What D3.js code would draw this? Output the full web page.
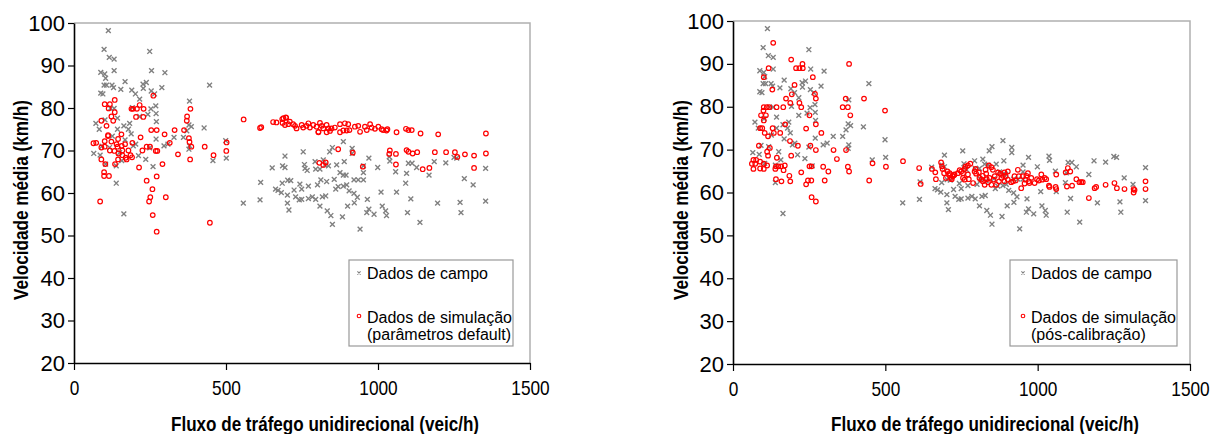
<!DOCTYPE html>
<html>
<head>
<meta charset="utf-8">
<title>Velocidade x Fluxo</title>
<script src="https://d3js.org/d3.v7.min.js"></script>
<style>
  body { margin: 0; background: #fff; }
  svg { display: block; }
  .tick text { fill: #000; }
  .ylab { font-family: "Liberation Sans", Arial, sans-serif; font-size: 22px; }
  .xlab { font-family: "Liberation Sans", Arial, sans-serif; font-size: 21px; }
  .title { font-family: "Liberation Sans", Arial, sans-serif; font-weight: bold; font-size: 21px; }
  .legend text { font-family: "Liberation Sans", Arial, sans-serif; font-size: 16px; }
</style>
</head>
<body>
<div id="chart"></div>
<script>
// field data (same in both panels): [flow veic/h, speed km/h]
const campo = [
  [113,98.2],[99,93.8],[249,93.3],[116,91.9],[132,91.5],[132,88.8],[255,88.8],[299,88.3],[88,88.4],[101,88.0],
  [104,87.0],[168,86.2],[238,86.0],[227,85.6],[99,85.4],[107,85.4],[125,85.4],[130,84.8],[154,84.4],[190,84.2],
  [228,84.6],[289,84.8],[446,85.4],[254,84.0],[202,83.3],[88,83.5],[95,83.3],[265,83.3],[216,82.1],[380,81.6],
  [269,80.5],[120,79.9],[132,79.9],[192,80.1],[253,79.8],[270,78.7],[243,78.5],[216,78.0],[143,77.6],[102,77.2],
  [72,76.4],[271,76.8],[183,76.4],[164,75.8],[378,76.0],[386,75.6],[83,75.0],[143,75.0],[179,75.0],[428,75.3],
  [371,74.6],[188,73.9],[126,73.4],[270,72.7],[329,73.1],[360,73.1],[168,72.5],[203,71.5],[195,71.1],[296,71.1],
  [309,71.5],[117,70.7],[249,70.6],[380,71.1],[378,70.3],[499,72.3],[65,69.3],[86,68.9],[212,68.8],[236,67.9],
  [157,67.6],[457,67.6],[501,68.2],[104,66.8],[139,66.4],[260,66.2],[139,62.3],[164,55.1],[92,71.0],[150,69.5],
  [652,65.9],[694,68.7],[686,66.4],[694,66.0],[614,62.5],[703,63.0],[713,62.9],[685,62.3],[663,60.9],[671,60.6],
  [682,60.1],[702,59.5],[724,60.7],[729,59.1],[741,58.4],[557,57.6],[612,58.4],[702,57.6],[707,56.0],
  [754,69.7],[850,70.7],[886,72.1],[841,69.7],[915,70.5],[915,69.3],[970,68.2],[1037,68.5],[1039,67.5],[1100,67.0],
  [1112,67.0],[1185,67.4],[1223,67.1],[1250,68.4],[1259,68.2],[1354,65.8],[758,66.7],[760,65.8],[767,65.3],[793,67.4],
  [795,65.6],[809,65.6],[820,67.8],[826,66.6],[837,66.4],[864,66.6],[889,67.4],[952,66.4],[952,64.8],[999,66.0],
  [1058,65.0],[1094,64.6],[1127,66.0],[1168,64.2],[875,64.8],[886,64.2],[895,64.2],[743,62.1],[749,60.9],[771,61.6],
  [801,61.9],[812,63.1],[831,62.7],[856,63.2],[861,60.9],[869,61.5],[886,61.6],[897,61.9],[905,60.5],[921,63.1],
  [935,63.1],[952,63.1],[921,59.9],[932,59.0],[1010,60.2],[1061,60.2],[1091,62.3],[1284,63.4],[1313,61.9],[749,58.5],
  [771,58.7],[784,59.1],[795,58.5],[809,56.9],[817,59.1],[828,59.3],[833,55.8],[845,54.7],[883,54.4],[850,52.6],
  [900,56.9],[922,57.7],[965,58.5],[970,56.2],[963,55.4],[987,55.0],[1014,56.9],[1025,55.8],[1028,54.7],[1097,55.4],
  [1108,58.6],[1138,53.1],[1196,57.6],[1270,57.8],[1273,55.4],[1354,58.1],[941,51.5]
];

// simulation, default parameters
const simDefault = [
  [261,82.9],[134,81.9],[101,80.9],[118,80.9],[114,79.9],[134,79.0],[189,79.8],[194,79.8],[207,79.8],[216,80.7],
  [229,79.8],[228,77.9],[204,77.9],[123,78.0],[129,77.0],[383,79.8],[372,78.0],[371,77.0],[90,77.0],[107,75.8],
  [254,74.8],[272,74.8],[331,74.8],[362,74.8],[112,73.6],[112,73.4],[156,73.8],[298,73.8],[145,72.7],[219,73.1],
  [378,72.9],[380,72.0],[64,71.7],[73,71.8],[101,72.2],[123,72.1],[140,71.5],[192,71.8],[90,70.7],[101,70.9],
  [143,70.9],[157,71.1],[168,71.5],[239,70.9],[250,70.9],[315,71.8],[386,70.9],[430,70.9],[502,71.9],[118,70.0],
  [133,69.9],[159,70.0],[179,70.0],[225,70.0],[269,69.9],[274,69.9],[501,69.9],[342,69.1],[459,68.9],[146,69.3],
  [159,68.9],[170,68.3],[186,68.9],[173,67.9],[191,68.4],[90,67.9],[145,67.9],[382,67.9],[103,66.8],[135,66.8],
  [291,66.8],[214,66.0],[272,63.9],[99,64.9],[99,64.0],[115,64.0],[239,62.9],[258,60.9],[251,59.0],[247,58.0],
  [302,59.0],[86,58.0],[259,54.8],[447,53.0],[272,50.9],
  [558,77.3],[612,75.3],[616,75.5],[655,76.7],[666,76.6],[685,77.4],[698,77.7],
  [689,77.6],[697,77.8],[686,76.5],[694,76.0],[705,76.2],[710,76.8],[721,76.2],[727,75.8],[732,75.2],[749,76.0],
  [754,75.4],[765,75.8],[771,76.4],[776,75.4],[787,76.0],[798,75.6],[804,74.4],[809,76.5],[815,75.8],[820,75.2],
  [831,76.0],[837,75.2],[847,75.2],[858,75.4],[875,76.2],[891,76.4],[902,76.2],[886,74.7],[897,74.7],[875,74.3],
  [906,74.8],[924,75.6],[935,75.8],[941,74.4],[957,75.6],[963,74.8],[974,76.2],[979,75.4],[990,75.1],[1001,75.6],
  [1012,75.0],[1017,74.8],[1028,74.7],[1031,75.0],[1061,74.3],[1092,75.1],[1100,74.8],[1111,74.8],[1140,74.0],[1198,73.8],
  [1355,74.0],[842,74.6],[831,74.3],[804,74.3],
  [869,70.3],[917,69.5],[1039,70.0],[1037,69.2],[1059,69.2],[1094,70.1],[1100,69.7],[1114,69.3],[1129,69.6],[1187,69.6],
  [1224,69.6],[1253,69.6],[1261,68.5],[1286,69.1],[1316,68.8],[1355,69.3],[1059,66.7],[1147,65.6],[1169,65.9],[1316,65.9],
  [807,67.1],[820,66.6],[828,67.2],[950,66.2]
];

// simulation, after calibration
const simCalib = [
  [132,94.9],[191,91.0],[381,90.0],[228,90.0],[207,89.0],[218,89.0],[229,89.0],[117,89.0],[101,86.9],[262,86.9],
  [202,85.1],[129,84.0],[193,82.9],[269,83.0],[272,81.9],[174,81.9],[188,80.9],[218,80.9],[370,81.9],[430,81.9],
  [360,79.9],[377,79.9],[499,79.1],[101,79.9],[111,79.9],[119,79.9],[143,79.9],[165,79.9],[224,79.9],[100,79.1],
  [92,78.0],[108,78.0],[251,78.0],[385,78.0],[101,76.8],[272,75.9],[171,75.9],[89,75.0],[96,75.0],[130,75.0],
  [240,74.9],[104,73.9],[134,73.9],[155,73.9],[290,73.9],[115,73.1],[187,72.0],[85,70.9],[121,70.4],[213,70.9],
  [254,70.9],[272,69.9],[330,69.9],[371,69.9],[112,69.5],[115,68.6],[144,68.1],[191,68.6],[341,67.8],[458,66.8],
  [558,67.3],[67,67.6],[76,67.6],[73,66.7],[62,66.7],[89,67.2],[101,66.7],[67,65.5],[89,65.6],[101,65.5],
  [112,66.3],[141,66.1],[139,65.5],[149,66.1],[158,66.1],[170,66.3],[166,65.2],[251,66.1],[258,66.1],[296,66.0],
  [313,64.9],[377,66.0],[381,64.9],[502,66.0],[611,65.7],[141,63.1],[159,62.6],[188,62.6],[185,63.9],[224,64.7],
  [246,62.8],[257,62.8],[301,62.8],[240,61.9],[447,62.8],[616,62.0],[258,58.9],[272,57.9],
  [653,65.5],[664,64.7],[683,67.0],[688,65.5],[693,64.5],[704,64.9],[710,64.1],[721,63.8],[726,64.1],[699,63.4],
  [718,63.1],[666,63.1],[686,66.1],
  [711,64.5],[716,63.4],[722,63.9],[727,64.2],[738,64.5],[744,65.2],[749,64.9],[755,64.5],[760,65.5],[763,66.0],
  [771,66.3],[779,66.7],[755,63.4],[760,63.0],[771,64.2],[774,63.1],[788,62.2],[793,64.9],[796,65.5],[798,64.4],
  [807,64.7],[809,63.4],[815,63.0],[820,63.9],[820,62.6],[826,61.8],[829,65.3],[831,64.4],[833,63.1],[837,62.4],
  [840,66.3],[842,63.4],[848,65.9],[848,61.8],[853,65.3],[855,63.0],[859,63.8],[864,61.8],[870,64.7],[873,62.6],
  [877,64.4],[881,63.4],[886,63.9],[891,62.6],[891,64.7],[895,63.8],[902,64.9],[902,63.0],[913,62.4],[919,62.6],
  [924,63.8],[928,62.8],[935,65.3],[938,63.8],[946,61.0],[952,63.8],[957,62.1],[960,63.0],[963,63.9],[968,64.5],
  [971,62.6],[973,62.2],[979,63.4],[990,62.2],[998,63.1],[1004,62.8],[1012,64.2],[1015,63.0],[1023,63.4],[1028,63.1],
  [1037,61.6],[1039,61.3],[1059,61.3],[1061,60.8],[1061,64.2],[1092,64.7],[1096,61.4],[1099,65.7],[1107,64.9],[1113,61.6],
  [1127,63.1],[1137,62.4],[1143,62.4],[1148,62.4],[1168,58.7],[1187,61.0],[1192,61.3],[1223,61.8],[1252,62.2],[1260,61.0],
  [1285,60.8],[1315,60.8],[1315,60.0],[1318,60.6],[1354,62.6],[1354,60.8]
];

const xTicks = [0, 500, 1000, 1500];
const yTicks = [20, 30, 40, 50, 60, 70, 80, 90, 100];
const xTitle = "Fluxo de tráfego unidirecional (veic/h)";
const yTitle = "Velocidade média (km/h)";
const legendCampo = "Dados de campo";
const legendSimDefault = ["Dados de simulação", "(parâmetros default)"];
const legendSimCalib = ["Dados de simulação", "(pós-calibração)"];

const W = 1212, H = 434;
const svg = d3.select("#chart").append("svg").attr("width", W).attr("height", H);

const crossPath = "M-2.4,-2.4L2.4,2.4M-2.4,2.4L2.4,-2.4";

function drawPanel(p) {
  const x = d3.scaleLinear().domain([0, 1500]).range([p.x0, p.x1]);
  const y = d3.scaleLinear().domain([20, 100]).range([p.y0, p.y1]);
  const g = svg.append("g");

  // light frame top / right
  g.append("path")
    .attr("d", `M${p.x0},${p.y1}H${p.x1}V${p.y0}`)
    .attr("fill", "none").attr("stroke", "#b0b0b0").attr("stroke-width", 1.5);

  const yAxis = g.append("g").attr("transform", `translate(${p.x0},0)`)
    .call(d3.axisLeft(y).tickValues(yTicks).tickFormat(d3.format("d"))
      .tickSize(6).tickSizeOuter(0).tickPadding(3));
  yAxis.selectAll("text").attr("class", "ylab");
  yAxis.select(".domain").attr("stroke", "#000").attr("stroke-width", 1.6);
  yAxis.selectAll(".tick line").attr("stroke", "#000").attr("stroke-width", 1.2);

  const xAxis = g.append("g").attr("transform", `translate(0,${p.y0})`)
    .call(d3.axisBottom(x).tickValues(xTicks).tickFormat(d3.format("d"))
      .tickSize(7).tickSizeOuter(0).tickPadding(10));
  // condensed look of the original tick labels
  xAxis.selectAll("text").attr("class", "xlab")
    .attr("textLength", d => String(d).length * 9.6)
    .attr("lengthAdjust", "spacingAndGlyphs");
  xAxis.select(".domain").attr("stroke", "#000").attr("stroke-width", 1.6);
  xAxis.selectAll(".tick line").attr("stroke", "#000").attr("stroke-width", 1.2);

  // field data crosses
  g.append("g").selectAll("path").data(campo).enter().append("path")
    .attr("d", crossPath)
    .attr("transform", d => `translate(${x(d[0])},${y(d[1])})`)
    .attr("stroke", "#808080").attr("stroke-width", 1.4).attr("fill", "none");

  // simulation circles
  g.append("g").selectAll("circle").data(p.sim).enter().append("circle")
    .attr("cx", d => x(d[0])).attr("cy", d => y(d[1])).attr("r", 2.3)
    .attr("fill", "none").attr("stroke", "#ff0000").attr("stroke-width", 1.2);

  // titles
  g.append("text").attr("class", "title")
    .attr("x", p.xtCenter).attr("y", 431).attr("text-anchor", "middle")
    .attr("textLength", 308).attr("lengthAdjust", "spacingAndGlyphs")
    .text(xTitle);
  g.append("text").attr("class", "title")
    .attr("transform", `translate(${p.ytX},200) rotate(-90)`)
    .attr("text-anchor", "middle")
    .attr("textLength", 200).attr("lengthAdjust", "spacingAndGlyphs")
    .text(yTitle);

  // legend
  const lg = g.append("g").attr("class", "legend");
  lg.append("rect").attr("x", p.lx).attr("y", 260).attr("width", p.lw).attr("height", 86)
    .attr("fill", "#fff").attr("stroke", "#999").attr("stroke-width", 1.2);
  lg.append("path").attr("d", "M-1.6,-1.6L1.6,1.6M-1.6,1.6L1.6,-1.6")
    .attr("transform", `translate(${p.lx + p.mk},273)`)
    .attr("stroke", "#808080").attr("stroke-width", 1.1);
  lg.append("text").attr("x", p.lx + p.tx).attr("y", 279).text(legendCampo);
  lg.append("circle").attr("cx", p.lx + p.mk).attr("cy", 316).attr("r", 1.8)
    .attr("fill", "none").attr("stroke", "#ff0000").attr("stroke-width", 1.1);
  lg.append("text").attr("x", p.lx + p.tx).attr("y", 323).text(p.legendSim[0]);
  lg.append("text").attr("x", p.lx + p.tx).attr("y", 340).text(p.legendSim[1]);
}

drawPanel({ x0: 74, x1: 530, y0: 363, y1: 23, sim: simDefault, xtCenter: 325, ytX: 28,
            lx: 349, lw: 164, mk: 10, tx: 18, legendSim: legendSimDefault });
drawPanel({ x0: 733, x1: 1190, y0: 364, y1: 21, sim: simCalib, xtCenter: 985, ytX: 688,
            lx: 1010, lw: 167, mk: 13, tx: 21, legendSim: legendSimCalib });
</script>
</body>
</html>
